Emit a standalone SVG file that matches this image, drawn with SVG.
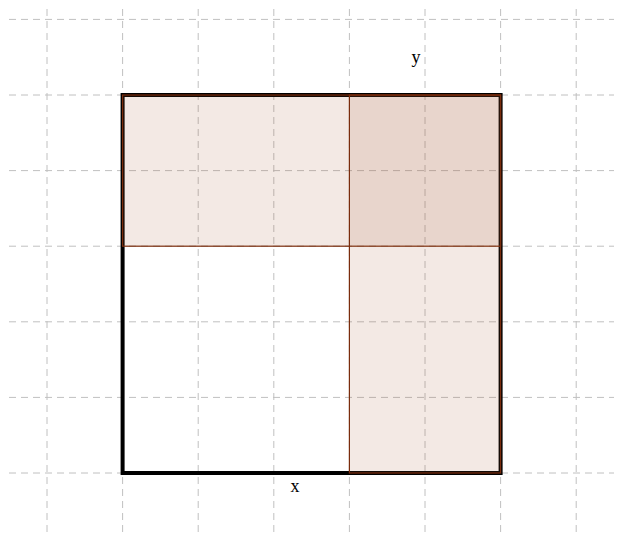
<svg xmlns="http://www.w3.org/2000/svg" width="622" height="542" viewBox="0 0 622 542">
<style>
.grid line{stroke:#c0c0c0;stroke-width:1;stroke-dasharray:7 5;fill:none}
.area{fill:#a0522d;fill-opacity:0.13;stroke:#7a2c0c;stroke-width:1.2}
.lbl{font-family:"Liberation Serif",serif;font-size:18px;fill:#000;text-anchor:middle}
</style>
<rect width="622" height="542" fill="#fff"/>
<g id="grid" class="grid">
<line x1="47" y1="9" x2="47" y2="534"/>
<line x1="122.6" y1="9" x2="122.6" y2="534"/>
<line x1="198.2" y1="9" x2="198.2" y2="534"/>
<line x1="273.8" y1="9" x2="273.8" y2="534"/>
<line x1="349.4" y1="9" x2="349.4" y2="534"/>
<line x1="425" y1="9" x2="425" y2="534"/>
<line x1="500.6" y1="9" x2="500.6" y2="534"/>
<line x1="576.2" y1="9" x2="576.2" y2="534"/>
<line x1="9" y1="19.4" x2="614" y2="19.4"/>
<line x1="9" y1="95" x2="614" y2="95"/>
<line x1="9" y1="170.6" x2="614" y2="170.6"/>
<line x1="9" y1="246.2" x2="614" y2="246.2"/>
<line x1="9" y1="321.8" x2="614" y2="321.8"/>
<line x1="9" y1="397.4" x2="614" y2="397.4"/>
<line x1="9" y1="473" x2="614" y2="473"/>
</g>
<g id="square">
<rect x="122.6" y="95" width="378" height="378" fill="none" stroke="#000" stroke-width="4"/>
</g>
<g id="top-area">
<rect class="area" x="122.6" y="95" width="378" height="151.2"/>
</g>
<g id="right-area">
<rect class="area" x="349.4" y="95" width="151.2" height="378"/>
</g>
<g id="labels">
<text class="lbl" x="295" y="492">x</text>
<text class="lbl" x="416" y="63">y</text>
</g>
</svg>
